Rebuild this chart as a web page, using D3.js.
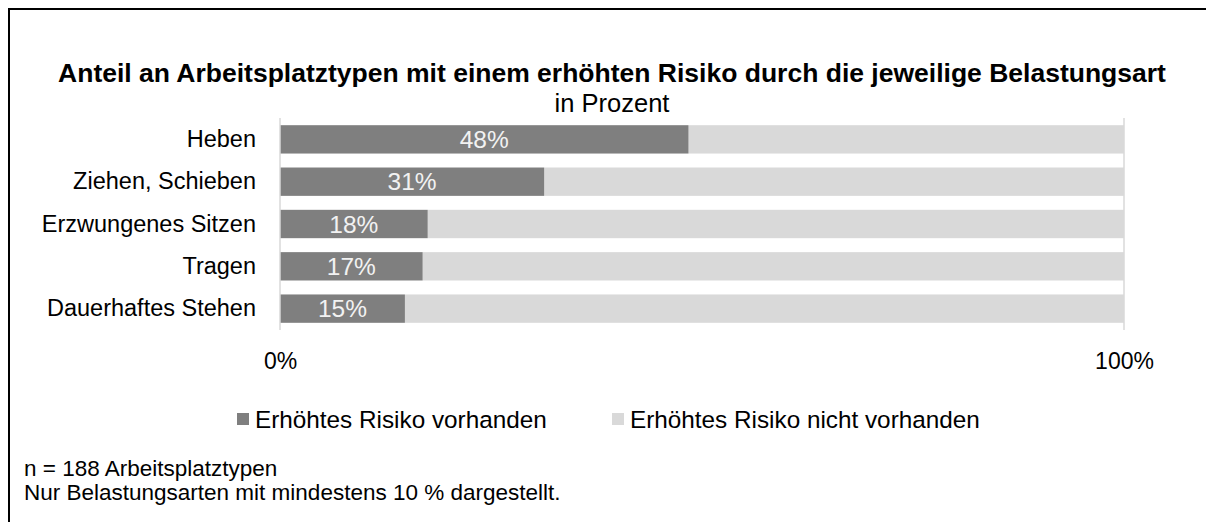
<!DOCTYPE html>
<html>
<head>
<meta charset="utf-8">
<script src="https://cdnjs.cloudflare.com/ajax/libs/d3/7.8.5/d3.min.js"></script>
<style>
  body { margin: 0; background: #fff; }
  text { font-family: "Liberation Sans", Arial, sans-serif; }
</style>
</head>
<body>
<svg id="chart" width="1206" height="522"></svg>
<script>
// data
var categories = ['Heben', 'Ziehen, Schieben', 'Erzwungenes Sitzen', 'Tragen', 'Dauerhaftes Stehen'];
var risk = [48.4, 31.3, 17.5, 16.9, 14.8];
var tickValues = [0, 100];
var seriesNames = ['Erhöhtes Risiko vorhanden', 'Erhöhtes Risiko nicht vorhanden'];
var colors = ['#7f7f7f', '#d9d9d9'];

var svg = d3.select('#chart');

// frame (only top & left visible in crop)
svg.append('path')
  .attr('d', 'M9,522V9H1206')
  .attr('fill', 'none')
  .attr('stroke', '#000')
  .attr('stroke-width', 2);

svg.append('text')
  .attr('x', 612).attr('y', 82)
  .attr('text-anchor', 'middle')
  .attr('font-size', 26.5).attr('font-weight', 'bold')
  .text('Anteil an Arbeitsplatztypen mit einem erhöhten Risiko durch die jeweilige Belastungsart');
svg.append('text')
  .attr('x', 612).attr('y', 112)
  .attr('text-anchor', 'middle')
  .attr('font-size', 25.5)
  .text('in Prozent');

var x = d3.scaleLinear().domain([0, 100]).range([280, 1124]);
var y = d3.scaleBand().domain(categories).range([118, 330]).paddingInner(0.33).paddingOuter(0.17);

var rows = categories.map(function(c, i) { return {cat: c, v: risk[i]}; });

// light background (not at risk)
svg.append('g').selectAll('rect').data(rows).enter().append('rect')
  .attr('x', function(d) { return x(d.v); })
  .attr('y', function(d) { return y(d.cat); })
  .attr('width', function(d) { return x(100) - x(d.v); })
  .attr('height', y.bandwidth())
  .attr('fill', colors[1]);

svg.append('g').selectAll('rect').data(rows).enter().append('rect')
  .attr('x', x(0))
  .attr('y', function(d) { return y(d.cat); })
  .attr('width', function(d) { return x(d.v) - x(0); })
  .attr('height', y.bandwidth())
  .attr('fill', colors[0]);

// gridlines at 0 and 100
svg.append('g').selectAll('line').data(tickValues).enter().append('line')
  .attr('x1', function(d) { return x(d); }).attr('x2', function(d) { return x(d); })
  .attr('y1', 118).attr('y2', 330)
  .attr('stroke', '#d9d9d9').attr('stroke-width', 1.5);

// value labels
svg.append('g').selectAll('text').data(rows).enter().append('text')
  .attr('x', function(d) { return (x(0) + x(d.v)) / 2; })
  .attr('y', function(d) { return y(d.cat) + y.bandwidth() / 2 + 8.5; })
  .attr('text-anchor', 'middle')
  .attr('font-size', 24.5)
  .attr('fill', '#f2f2f2')
  .text(function(d) { return Math.round(d.v) + '%'; });

// category axis
var yAxis = svg.append('g')
  .attr('transform', 'translate(' + x(0) + ',0)')
  .call(d3.axisLeft(y).tickSize(0).tickPadding(24));
yAxis.select('.domain').remove();
yAxis.selectAll('text').attr('font-size', 23.5).attr('fill', '#000')
  .style('font-family', '"Liberation Sans", Arial, sans-serif');

// value axis
var xAxis = svg.append('g')
  .attr('transform', 'translate(0,350)')
  .call(d3.axisBottom(x).tickValues(tickValues).tickSize(0)
    .tickFormat(function(d) { return d + '%'; }));
xAxis.select('.domain').remove();
xAxis.selectAll('text').attr('font-size', 23).attr('fill', '#000')
  .style('font-family', '"Liberation Sans", Arial, sans-serif');

// legend
var legendX = [237, 612];
var legend = svg.append('g').selectAll('g').data(seriesNames).enter().append('g')
  .attr('transform', function(d, i) { return 'translate(' + legendX[i] + ',413)'; });
legend.append('rect').attr('width', 12).attr('height', 12)
  .attr('fill', function(d, i) { return colors[i]; });
legend.append('text').attr('x', 18).attr('y', 15)
  .attr('font-size', 24.3)
  .text(function(d) { return d; });

// notes
svg.append('text').attr('x', 24).attr('y', 476).attr('font-size', 22.5)
  .text('n = 188 Arbeitsplatztypen');
svg.append('text').attr('x', 24).attr('y', 500).attr('font-size', 22.5)
  .text('Nur Belastungsarten mit mindestens 10 % dargestellt.');
</script>
</body>
</html>
